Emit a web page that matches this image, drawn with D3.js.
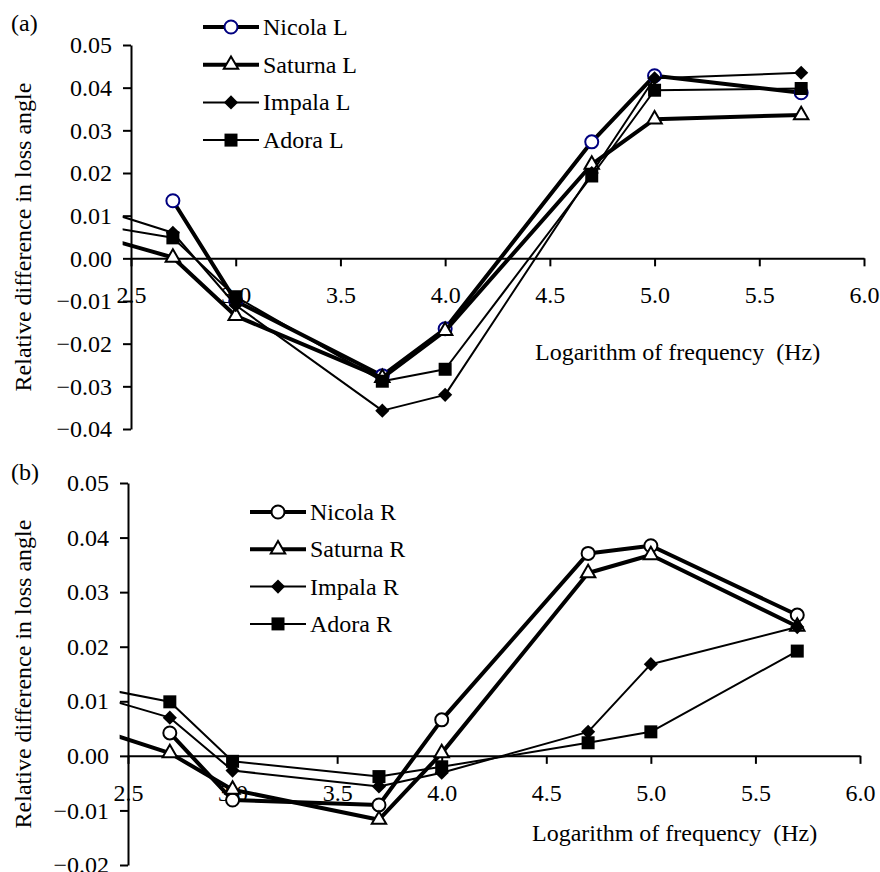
<!DOCTYPE html>
<html lang="en">
<head>
<meta charset="UTF-8">
<title>Relative difference in loss angle</title>
<script src="https://d3js.org/d3.v7.min.js"></script>
<style>
    body { margin: 0; background: #fff; }
    svg text {
        font-family: "Liberation Serif", "Times New Roman", serif;
        font-size: 24px;
        fill: #000;
    }
    .axis path, .axis line { stroke: #000; stroke-width: 2px; }
</style>
</head>
<body>
<svg id="chart" width="880" height="872"></svg>
<script>
    // log10 of frequency; first point sits left of the axis and is clipped
    const logFreq = [2.3, 2.7, 3.0, 3.7, 4.0, 4.7, 5.0, 5.7];

    // panel (a)
    const nicolaL  = [null,   0.0135, -0.0100, -0.0275, -0.0165, 0.0273, 0.0428, 0.0388];
    const saturnaL = [0.0058, 0.0002, -0.0135, -0.0280, -0.0170, 0.0220, 0.0326, 0.0336];
    const impalaL  = [0.0122, 0.0060, -0.0110, -0.0357, -0.0320, 0.0200, 0.0422, 0.0435];
    const adoraL   = [0.0081, 0.0048, -0.0090, -0.0288, -0.0260, 0.0193, 0.0394, 0.0398];

    // panel (b)
    const nicolaR  = [null,   0.0042, -0.0081, -0.0090,  0.0066, 0.0371, 0.0385, 0.0258];
    const saturnaR = [0.0055, 0.0005, -0.0062, -0.0117,  0.0005, 0.0335, 0.0368, 0.0237];
    const impalaR  = [0.0115, 0.0070, -0.0027, -0.0056, -0.0031, 0.0044, 0.0168, 0.0236];
    const adoraR   = [0.0129, 0.0099, -0.0010, -0.0038, -0.0020, 0.0024, 0.0044, 0.0192];

    const xTicks  = [2.5, 3.0, 3.5, 4.0, 4.5, 5.0, 5.5, 6.0];
    const yTicksA = [0.05, 0.04, 0.03, 0.02, 0.01, 0.00, -0.01, -0.02, -0.03, -0.04];
    const yTicksB = [0.05, 0.04, 0.03, 0.02, 0.01, 0.00, -0.01, -0.02];

    const xTitle = "Logarithm of frequency\u00a0\u00a0(Hz)";
    const yTitle = "Relative difference in loss angle";

    const svg = d3.select("#chart");

    const marker = {
        circle:   d3.symbol().type(d3.symbolCircle).size(133),
        triangle: d3.symbol().type(d3.symbolTriangle).size(90),
        diamond:  d3.symbol().type(d3.symbolSquare).size(100),
        square:   d3.symbol().type(d3.symbolSquare).size(169)
    };

    function drawMarker(g, kind, x, y, circleColor) {
        const p = g.append("path")
            .attr("d", marker[kind]())
            .attr("transform", `translate(${x},${y})` + (kind === "diamond" ? " rotate(45)" : ""));
        if (kind === "circle") {
            p.attr("fill", "#fff").attr("stroke", circleColor).attr("stroke-width", 2);
        } else if (kind === "triangle") {
            p.attr("fill", "#fff").attr("stroke", "#000").attr("stroke-width", 2);
        } else {
            p.attr("fill", "#000");
        }
    }

    function drawPanel(p) {
        const x = d3.scaleLinear().domain([2.5, 6.0]).range([p.left, p.right]);
        const y = d3.scaleLinear().domain(p.yDomain).range([p.bottom, p.top]);
        const g = svg.append("g");

        // axes
        g.append("g")
            .attr("class", "axis")
            .attr("transform", `translate(${p.left},0)`)
            .call(d3.axisLeft(y).tickValues(p.yTicks).tickSize(8).tickSizeOuter(0)
                .tickPadding(11).tickFormat(d3.format(".2f")))
            .call(a => a.selectAll("text").attr("font-size", null));

        g.append("g")
            .attr("class", "axis")
            .attr("transform", `translate(0,${y(0)})`)
            .call(d3.axisBottom(x).tickValues(xTicks).tickSize(8).tickSizeOuter(0)
                .tickPadding(20).tickFormat(d3.format(".1f")));

        g.selectAll(".axis text").attr("font-family", null).attr("font-size", null);

        // titles
        g.append("text")
            .attr("x", p.xTitleX)
            .attr("y", p.xTitleY)
            .text(xTitle);

        g.append("text")
            .attr("text-anchor", "middle")
            .attr("transform", `translate(31,${(p.top + p.bottom) / 2}) rotate(-90)`)
            .text(yTitle);

        g.append("text")
            .attr("x", 11)
            .attr("y", p.labelY)
            .text(p.label);

        // series
        const clipId = "clip-" + p.label.replace(/\W/g, "");
        g.append("clipPath").attr("id", clipId)
            .append("rect")
            .attr("x", x(2.46))
            .attr("y", p.top - 20)
            .attr("width", x(6.0) - x(2.46))
            .attr("height", p.bottom - p.top + 40);

        const line = d3.line()
            .defined(d => d.v !== null)
            .x(d => x(d.f))
            .y(d => y(d.v));

        p.series.forEach(s => {
            const pts = logFreq.map((f, i) => ({ f: f, v: s.values[i] }));
            const sg = g.append("g");
            sg.append("path")
                .datum(pts)
                .attr("clip-path", `url(#${clipId})`)
                .attr("fill", "none")
                .attr("stroke", "#000")
                .attr("stroke-width", s.width)
                .attr("stroke-linejoin", "round")
                .attr("d", line);
            pts.filter(d => d.v !== null && d.f >= 2.5).forEach(d => {
                drawMarker(sg, s.kind, x(d.f), y(d.v), p.circleColor);
            });
        });

        // legend
        p.series.forEach((s, i) => {
            const ly = p.legendY + i * p.legendStep;
            g.append("line")
                .attr("x1", p.legendX)
                .attr("x2", p.legendX + 56)
                .attr("y1", ly)
                .attr("y2", ly)
                .attr("stroke", "#000")
                .attr("stroke-width", s.width);
            drawMarker(g, s.kind, p.legendX + 28, ly, p.circleColor);
            g.append("text")
                .attr("x", p.legendX + 60)
                .attr("y", ly)
                .attr("dy", "0.33em")
                .text(s.name);
        });
    }

    drawPanel({
        label: "(a)", labelY: 31,
        left: 131, right: 864, top: 45, bottom: 429,
        yDomain: [-0.04, 0.05], yTicks: yTicksA,
        xTitleX: 535, xTitleY: 360,
        legendX: 203, legendY: 27, legendStep: 37.7,
        circleColor: "#000080",
        series: [
            { name: "Nicola L",  values: nicolaL,  kind: "circle",   width: 4 },
            { name: "Saturna L", values: saturnaL, kind: "triangle", width: 4 },
            { name: "Impala L",  values: impalaL,  kind: "diamond",  width: 2 },
            { name: "Adora L",   values: adoraL,   kind: "square",   width: 2 }
        ]
    });

    drawPanel({
        label: "(b)", labelY: 480,
        left: 128, right: 860, top: 483, bottom: 865,
        yDomain: [-0.02, 0.05], yTicks: yTicksB,
        xTitleX: 532, xTitleY: 841,
        legendX: 250, legendY: 512, legendStep: 37.3,
        circleColor: "#000",
        series: [
            { name: "Nicola R",  values: nicolaR,  kind: "circle",   width: 4 },
            { name: "Saturna R", values: saturnaR, kind: "triangle", width: 4 },
            { name: "Impala R",  values: impalaR,  kind: "diamond",  width: 2 },
            { name: "Adora R",   values: adoraR,   kind: "square",   width: 2 }
        ]
    });
</script>
</body>
</html>
